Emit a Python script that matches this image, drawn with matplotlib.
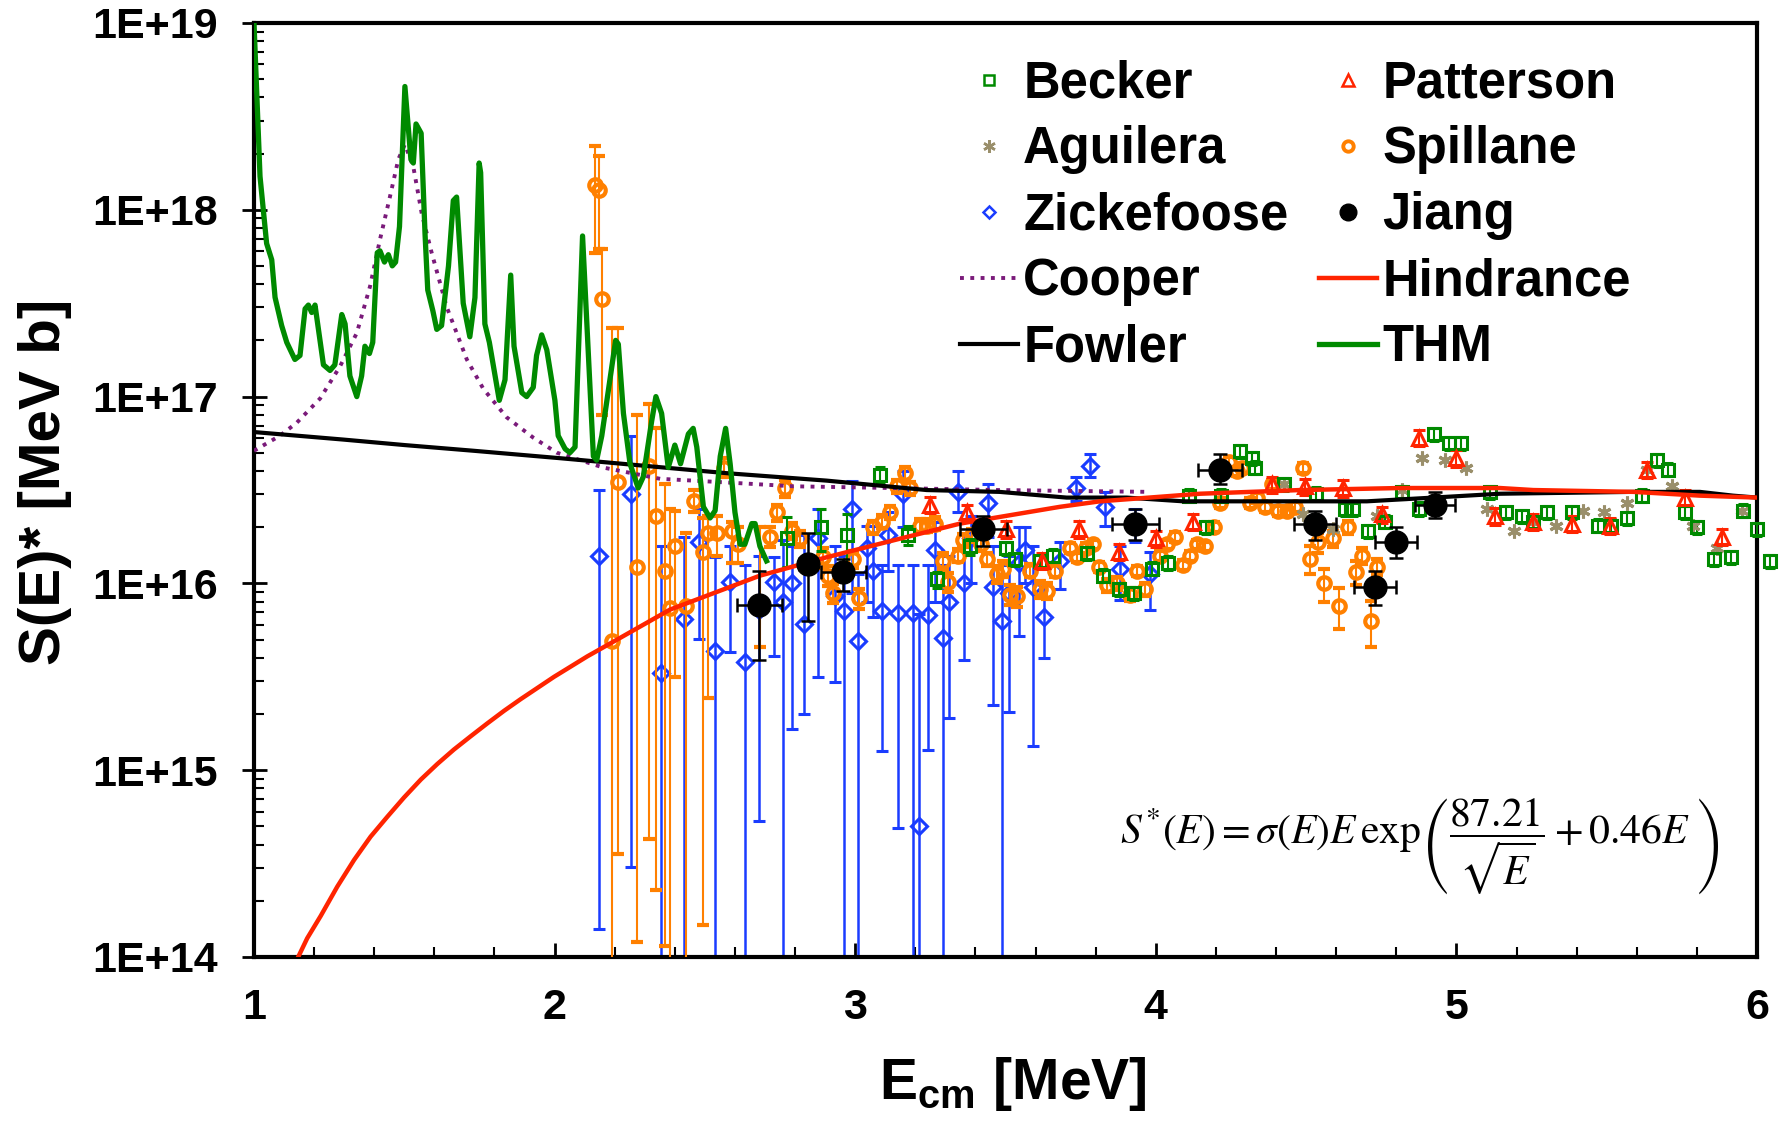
import numpy as np
import matplotlib
matplotlib.use('Agg')
import matplotlib.pyplot as plt
from matplotlib.lines import Line2D
from matplotlib.ticker import LogLocator, MultipleLocator, NullFormatter, FuncFormatter

plt.rcParams['font.family'] = ['Liberation Sans', 'DejaVu Sans']
plt.rcParams['mathtext.fontset'] = 'custom'
plt.rcParams['mathtext.rm'] = 'Liberation Sans:bold'
plt.rcParams['mathtext.bf'] = 'Liberation Sans:bold'
plt.rcParams['mathtext.it'] = 'Liberation Sans:bold'

U = 1e16  # all S values below are in units of 1E+16 MeV b

# ---- curves ----
thm_x = [1.000, 1.020, 1.042, 1.059, 1.070, 1.092, 1.109, 1.136, 1.153, 1.170, 1.181, 1.192, 1.203,
         1.231, 1.253, 1.269, 1.292, 1.303, 1.319, 1.342, 1.358, 1.369, 1.384, 1.395, 1.410, 1.419,
         1.434, 1.447, 1.460, 1.471, 1.484, 1.502, 1.522, 1.530, 1.539, 1.556, 1.569, 1.578, 1.595,
         1.608, 1.624, 1.647, 1.663, 1.674, 1.696, 1.718, 1.735, 1.749, 1.754, 1.768, 1.783, 1.816,
         1.835, 1.854, 1.865, 1.891, 1.907, 1.929, 1.940, 1.957, 1.974, 2.001, 2.012, 2.035, 2.051,
         2.068, 2.093, 2.129, 2.140, 2.157, 2.203, 2.212, 2.229, 2.251, 2.278, 2.295, 2.323, 2.337,
         2.356, 2.378, 2.400, 2.419, 2.445, 2.461, 2.473, 2.495, 2.517, 2.534, 2.551, 2.569, 2.584,
         2.600, 2.617, 2.633, 2.656, 2.667, 2.683, 2.705]
thm_y = [1000, 151, 66, 54, 34, 24, 19.5, 15.8, 16.6, 29.5, 30.9, 28.2, 30.9,
         14.8, 13.8, 14.8, 27.5, 24.5, 12.9, 10.0, 12.9, 18.6, 17.0, 19.5, 58.9, 60.3,
         52.5, 57.5, 50.1, 52.5, 81.3, 457, 186, 178, 288, 257, 74.1, 37.2, 28.8,
         22.9, 24.0, 50, 112, 117, 31.6, 20.9, 33.9, 178, 158, 24.5, 19.5, 9.55,
         12.3, 44.7, 18.6, 10.5, 10.0, 11.2, 16.6, 21.4, 17.8, 9.55, 6.17, 5.25, 5.01,
         5.37, 72.4, 4.79, 4.57, 6.17, 20.0, 19.1, 8.13, 4.37, 3.24, 3.72, 7.41, 10.0,
         8.13, 4.17, 5.50, 4.37, 6.31, 6.76, 5.37, 2.57, 2.24, 2.45, 4.79, 6.76, 4.37,
         2.40, 1.62, 1.62, 2.09, 2.09, 1.58, 1.32]

cooper_x = [1.00, 1.086, 1.142, 1.22, 1.286, 1.342, 1.386, 1.419, 1.452, 1.48, 1.502, 1.53, 1.558,
            1.591, 1.641, 1.708, 1.763, 1.84, 1.929, 2.007, 2.162, 2.351, 2.573, 2.795, 3.127,
            3.481, 3.981]
cooper_y = [5.13, 6.17, 7.24, 9.77, 14.5, 21.9, 38.9, 69.2, 117, 186, 224, 170, 95.5,
            58.9, 30.2, 15.8, 11.0, 7.76, 6.03, 5.01, 4.17, 3.63, 3.47, 3.31, 3.24,
            3.16, 3.09]

fowler_x = [1.0, 1.296, 1.502, 1.73, 2.018, 2.573, 2.905, 3.238, 3.48, 3.703, 3.903, 4.092, 4.369,
            4.702, 4.923, 5.145, 5.589, 5.81, 5.92, 6.0]
fowler_y = [6.46, 5.89, 5.50, 5.13, 4.68, 3.89, 3.55, 3.16, 3.09, 2.88, 2.88, 2.75, 2.75,
            2.75, 2.88, 3.02, 3.09, 3.09, 2.95, 2.88]

hind_x = [1.144, 1.177, 1.222, 1.277, 1.333, 1.388, 1.443, 1.499, 1.555, 1.610, 1.665, 1.721, 1.776,
          1.832, 1.887, 1.998, 2.109, 2.22, 2.384, 2.683, 2.905, 3.127, 3.349, 3.681, 3.814, 4.147,
          4.48, 4.812, 5.145, 5.256, 5.59, 5.81, 6.0]
hind_y = [0.00977, 0.0126, 0.0166, 0.0238, 0.0331, 0.0441, 0.0562, 0.0714, 0.0891, 0.108, 0.129,
          0.152, 0.178, 0.208, 0.240, 0.316, 0.407, 0.513, 0.724, 1.10, 1.38, 1.70, 2.09, 2.57,
          2.75, 3.02, 3.16, 3.24, 3.24, 3.16, 3.09, 2.95, 2.88]

# ---- Spillane: points with large asymmetric error bars ----
spb_x = [2.134, 2.149, 2.159, 2.190, 2.210, 2.273, 2.315, 2.336, 2.367, 2.384, 2.401, 2.437, 2.465,
         2.495, 2.511, 2.541, 2.565, 2.591, 2.609, 2.683]
spb_y = [136, 128, 33.1, 0.49, 3.47, 1.23, 4.27, 2.29, 1.17, 0.74, 1.58, 0.76, 2.75,
         1.48, 1.86, 1.86, 4.17, 1.91, 1.62, 0.776]
spb_lo = [58.9, 61.7, 7.94, 0.001, 0.0355, 0.012, 0.0427, 0.0229, 0.0115, 0.001, 0.316, 0.001, 2.40,
          0.0148, 0.245, 1.41, 3.72, 1.29, 1.29, 0.457]
spb_hi = [219, 195, 61.7, 23.4, 23.4, 7.94, 9.12, 6.76, 3.39, 2.51, 2.45, 1.86, 3.16,
          2.24, 2.29, 2.29, 4.68, 2.14, 2.00, 2.00]

# ---- Spillane: remaining points, relative errors ----
sp_x = [2.717, 2.739, 2.767, 2.789, 2.816, 2.894, 2.911, 2.927, 2.992, 3.011, 3.060, 3.088, 3.116,
        3.138, 3.166, 3.182, 3.216, 3.238, 3.265, 3.293, 3.310, 3.343, 3.360, 3.387, 3.417, 3.437,
        3.471, 3.493, 3.515, 3.537, 3.582, 3.615, 3.637, 3.665, 3.715, 3.739, 3.768, 3.792, 3.812,
        3.837, 3.870, 3.914, 3.937, 3.964, 4.014, 4.036, 4.064, 4.090, 4.114, 4.136, 4.164, 4.192,
        4.212, 4.242, 4.269, 4.286, 4.314, 4.336, 4.364, 4.386, 4.408, 4.436, 4.463, 4.489, 4.513,
        4.541, 4.560, 4.591, 4.610, 4.641, 4.666, 4.685, 4.715, 4.735]
sp_y = [1.78, 2.40, 3.24, 1.91, 1.74, 1.38, 1.10, 0.891, 1.35, 0.832, 2.00, 2.14, 2.40,
        3.31, 3.89, 3.24, 2.04, 2.04, 2.09, 1.32, 1.02, 1.41, 1.70, 1.82, 1.62, 1.35,
        1.12, 1.20, 0.871, 0.851, 1.17, 0.933, 0.912, 1.17, 1.55, 1.38, 1.55, 1.62, 1.23,
        0.977, 1.00, 0.871, 1.17, 0.933, 1.41, 1.62, 1.78, 1.26, 1.41, 1.62, 1.58, 2.00,
        2.69, 4.47, 3.98, 4.17, 2.69, 2.88, 2.57, 3.39, 2.45, 2.45, 2.57, 4.17, 1.35,
        1.66, 1.00, 1.74, 0.759, 2.00, 1.15, 1.41, 0.631, 1.23]
sp_rel = [0.12, 0.1, 0.1, 0.1, 0.1, 0.12, 0.12, 0.12, 0.1, 0.12, 0.08, 0.08, 0.08,
          0.08, 0.08, 0.08, 0.08, 0.08, 0.08, 0.1, 0.12, 0.08, 0.08, 0.08, 0.08, 0.08,
          0.1, 0.1, 0.12, 0.12, 0.08, 0.1, 0.1, 0.08, 0.06, 0.06, 0.06, 0.06, 0.06,
          0.08, 0.08, 0.08, 0.06, 0.08, 0.06, 0.06, 0.06, 0.06, 0.06, 0.06, 0.06, 0.06,
          0.06, 0.06, 0.06, 0.06, 0.06, 0.06, 0.06, 0.06, 0.06, 0.06, 0.06, 0.06, 0.17,
          0.12, 0.2, 0.1, 0.25, 0.08, 0.15, 0.1, 0.28, 0.1]

# ---- Zickefoose ----
zk_x = [2.149, 2.254, 2.354, 2.430, 2.482, 2.534, 2.584, 2.633, 2.681, 2.731, 2.759, 2.791, 2.831,
        2.877, 2.933, 2.964, 2.988, 3.010, 3.038, 3.060, 3.088, 3.110, 3.143, 3.160, 3.193, 3.213,
        3.243, 3.265, 3.291, 3.313, 3.341, 3.362, 3.385, 3.441, 3.460, 3.487, 3.510, 3.546, 3.565,
        3.593, 3.628, 3.682, 3.735, 3.781, 3.831, 3.881, 3.931, 3.981]
zk_y = [1.41, 3.02, 0.331, 0.646, 1.66, 0.437, 1.02, 0.380, 0.724, 1.02, 0.794, 1.00, 0.603,
        1.74, 0.851, 0.708, 2.51, 0.49, 1.55, 1.17, 0.708, 1.82, 0.692, 3.02, 0.692, 0.0501,
        0.676, 1.51, 0.513, 0.794, 3.09, 1.00, 1.74, 2.69, 0.955, 0.631, 0.891, 1.29, 1.51,
        0.955, 0.661, 1.32, 3.24, 4.27, 2.57, 1.20, 2.04, 1.12]
zk_lo = [0.0141, 0.0302, 0.001, 0.001, 0.501, 0.001, 0.427, 0.001, 0.0537, 0.407, 0.001, 0.166, 0.20,
         0.316, 0.295, 0.001, 0.891, 0.001, 0.794, 0.661, 0.127, 1.17, 0.049, 2.0, 0.001, 0.001,
         0.129, 0.794, 0.001, 0.191, 2.40, 0.389, 1.0, 1.78, 0.224, 0.001, 0.204, 0.525, 1.0,
         0.135, 0.398, 0.933, 2.75, 3.72, 2.04, 0.813, 1.66, 0.724]
zk_hi = [3.16, 6.17, 1.58, 1.78, 2.51, 1.38, 1.58, 1.26, 1.41, 1.38, 1.70, 1.58, 1.82,
         2.51, 1.58, 1.41, 3.55, 1.12, 2.04, 2.04, 1.26, 2.40, 1.26, 3.98, 1.26, 0.69,
         1.26, 2.14, 1.26, 1.41, 3.98, 1.58, 2.29, 3.39, 1.58, 1.26, 1.41, 2.0, 2.0,
         1.58, 1.0, 1.66, 3.72, 4.90, 3.09, 1.58, 2.51, 1.48]

# ---- Becker ----
bk_x = [2.772, 2.885, 2.974, 3.083, 3.177, 3.271, 3.382, 3.502, 3.532, 3.615, 3.659, 3.772, 3.826,
        3.879, 3.926, 3.986, 4.042, 4.112, 4.167, 4.216, 4.280, 4.319, 4.330, 4.425, 4.533, 4.630,
        4.657, 4.707, 4.763, 4.818, 4.874, 4.924, 4.974, 5.015, 5.112, 5.165, 5.217, 5.256, 5.300,
        5.386, 5.472, 5.513, 5.569, 5.619, 5.668, 5.705, 5.760, 5.799, 5.858, 5.912, 5.954, 5.999,
        6.043]
bk_y = [1.74, 2.00, 1.82, 3.80, 1.82, 1.05, 1.58, 1.55, 1.35, 1.32, 1.41, 1.45, 1.10,
        0.933, 0.891, 1.20, 1.29, 2.95, 2.00, 2.95, 5.13, 4.68, 4.17, 3.39, 3.02, 2.51,
        2.51, 1.91, 2.14, 3.09, 2.51, 6.31, 5.62, 5.62, 3.09, 2.40, 2.29, 2.14, 2.40,
        2.40, 2.04, 2.04, 2.24, 2.95, 4.57, 4.07, 2.40, 2.00, 1.35, 1.38, 2.45, 1.95,
        1.32]
bk_rel = [0.3, 0.25, 0.3, 0.1, 0.12, 0.1, 0.1, 0.08, 0.08, 0.08, 0.08, 0.08, 0.08,
          0.08, 0.08, 0.08, 0.08, 0.08, 0.08, 0.08, 0.08, 0.08, 0.08, 0.08, 0.08, 0.08,
          0.08, 0.08, 0.08, 0.08, 0.08, 0.08, 0.08, 0.08, 0.08, 0.08, 0.08, 0.08, 0.08,
          0.08, 0.08, 0.08, 0.08, 0.08, 0.08, 0.08, 0.08, 0.08, 0.08, 0.08, 0.08, 0.08,
          0.08]

# ---- Aguilera ----
ag_x = [4.425, 4.491, 4.591, 4.735, 4.818, 4.885, 4.962, 5.032, 5.101, 5.190, 5.256, 5.333, 5.422,
        5.491, 5.569, 5.633, 5.716, 5.788, 5.866, 5.949]
ag_y = [3.39, 2.34, 1.95, 2.29, 3.16, 4.68, 4.57, 4.17, 2.51, 1.91, 2.14, 2.04, 2.45,
        2.40, 2.69, 4.07, 3.31, 2.04, 1.55, 2.45]

# ---- Patterson ----
pt_x = [3.249, 3.373, 3.502, 3.620, 3.746, 3.876, 4.000, 4.125, 4.386, 4.497, 4.624, 4.752, 4.874,
        4.999, 5.128, 5.256, 5.383, 5.511, 5.635, 5.760, 5.885]
pt_y = [2.63, 2.40, 1.95, 1.32, 1.95, 1.48, 1.74, 2.14, 3.39, 3.31, 3.24, 2.34, 6.03,
        4.68, 2.29, 2.14, 2.09, 2.04, 4.07, 2.88, 1.78]

# ---- Jiang ----
jg_x = [2.681, 2.844, 2.961, 3.426, 3.931, 4.214, 4.530, 4.729, 4.799, 4.929]
jg_y = [0.767, 1.27, 1.15, 1.95, 2.09, 4.07, 2.09, 0.955, 1.66, 2.63]
jg_xerr = [0.075, 0.03, 0.075, 0.078, 0.078, 0.072, 0.07, 0.07, 0.07, 0.068]
jg_lo = [0.389, 0.631, 0.912, 1.58, 1.70, 3.39, 1.70, 0.767, 1.36, 2.24]
jg_hi = [1.17, 1.86, 1.35, 2.29, 2.51, 4.90, 2.45, 1.17, 2.00, 3.09]

green = '#008a00'
blue = '#1a3cff'
orange = '#ff8000'
red = '#ff2400'
tan = '#9a8f6b'
purple = '#7a1a7a'

fig = plt.figure(figsize=(17.79, 11.21), dpi=100)
ax = fig.add_axes([254 / 1779, 1 - 957 / 1121, 1503 / 1779, 934 / 1121])
ax.set_yscale('log')


def ends(y, lo, hi):
    y = np.array(y) * U
    return y, [y - np.array(lo) * U, np.array(hi) * U - y]


y, e = ends(zk_y, zk_lo, zk_hi)
ax.errorbar(zk_x, y, yerr=e, fmt='D', ms=8.5, mfc='none', mec=blue, mew=2.2,
            ecolor=blue, elinewidth=1.8, capsize=4.5, capthick=1.8, zorder=2)

y, e = ends(spb_y, spb_lo, spb_hi)
ax.errorbar(spb_x, y, yerr=e, fmt='o', ms=9, mfc='none', mec=orange, mew=3,
            ecolor=orange, elinewidth=1.5, capsize=4.5, capthick=1.5, zorder=3)
y = np.array(sp_y) * U
ax.errorbar(sp_x, y, yerr=y * np.array(sp_rel), fmt='o', ms=9, mfc='none', mec=orange, mew=3,
            ecolor=orange, elinewidth=1.5, capsize=4, capthick=1.5, zorder=3)

y = np.array(bk_y) * U
ax.errorbar(bk_x, y, yerr=y * np.array(bk_rel), fmt='s', ms=8.5, mfc='none', mec=green, mew=2.2,
            ecolor=green, elinewidth=1.5, capsize=3.5, capthick=1.5, zorder=4, clip_on=False)
ax.plot(ag_x, np.array(ag_y) * U, ls='none', marker=(6, 2, 0), ms=10, mec=tan, mew=2.2, zorder=4)
y = np.array(pt_y) * U
ax.errorbar(pt_x, y, yerr=y * 0.1, fmt='^', ms=10, mfc='none', mec=red, mew=2.2,
            ecolor=red, elinewidth=1.5, capsize=4, capthick=1.5, zorder=4)

ax.plot(cooper_x, np.array(cooper_y) * U, ':', color=purple, lw=2.8, zorder=5)
ax.plot(fowler_x, np.array(fowler_y) * U, '-', color='black', lw=3, zorder=5)
ax.plot(hind_x, np.array(hind_y) * U, '-', color=red, lw=3.2, zorder=5)
ax.plot(thm_x, np.array(thm_y) * U, '-', color=green, lw=3.8, zorder=5)

y, e = ends(jg_y, jg_lo, jg_hi)
ax.errorbar(jg_x, y, xerr=jg_xerr, yerr=e, fmt='o', ms=16.5, color='black',
            elinewidth=1.8, capsize=5, capthick=1.8, zorder=6)

ax.set_xlim(1, 6)
ax.set_ylim(1e14, 1e19)

ax.set_xticks([1, 2, 3, 4, 5, 6])
ax.xaxis.set_minor_locator(MultipleLocator(0.2))
ax.xaxis.set_major_formatter(FuncFormatter(lambda v, p: '%d' % v))
ax.set_yticks([1e14, 1e15, 1e16, 1e17, 1e18, 1e19])
ax.yaxis.set_minor_locator(LogLocator(base=10, subs=np.arange(2, 10)))
ax.yaxis.set_minor_formatter(NullFormatter())
ax.yaxis.set_major_formatter(FuncFormatter(lambda v, p: '1E+%d' % round(np.log10(v))))

ax.tick_params(axis='x', which='major', direction='in', length=10, width=2, pad=22, labelsize=31)
ax.tick_params(axis='x', which='minor', direction='in', length=7, width=1.5)
ax.tick_params(axis='y', which='major', direction='inout', length=18, width=2, pad=17, labelsize=31)
ax.tick_params(axis='y', which='minor', direction='in', length=7, width=1.5)
for lab in ax.get_xticklabels() + ax.get_yticklabels():
    lab.set_fontweight('bold')
for s in ax.spines.values():
    s.set_linewidth(3)

ax.set_xlabel(r'E$_{\mathbf{cm}}$ [MeV]', fontsize=41, fontweight='bold')
ax.xaxis.set_label_coords(0.505, -0.105)
ax.set_ylabel('S(E)* [MeV b]', fontsize=42, fontweight='bold')
ax.yaxis.set_label_coords(-0.121, 0.509)

ax.text(0.975, 0.118,
        r'$S^{*}\left(E\right)=\sigma\left(E\right)E\,\mathrm{exp}\left(\dfrac{87.21}{\sqrt{E}}+0.46E\;\right)$',
        transform=ax.transAxes, ha='right', va='center', fontsize=30, fontweight='normal',
        math_fontfamily='stix')

handles = [
    Line2D([], [], ls='none', marker='s', ms=7, mfc='none', mec=green, mew=1.8),
    Line2D([], [], ls='none', marker=(6, 2, 0), ms=9, mec=tan, mew=1.8),
    Line2D([], [], ls='none', marker='D', ms=6, mfc='none', mec=blue, mew=1.8),
    Line2D([], [], ls=':', color=purple, lw=2.8),
    Line2D([], [], ls='-', color='black', lw=3),
    Line2D([], [], ls='none', marker='^', ms=8.5, mfc='none', mec=red, mew=1.8),
    Line2D([], [], ls='none', marker='o', ms=7.5, mfc='none', mec=orange, mew=2.8),
    Line2D([], [], ls='none', marker='o', ms=12, color='black'),
    Line2D([], [], ls='-', color=red, lw=3.2),
    Line2D([], [], ls='-', color=green, lw=3.8),
]
labels = ['Becker', 'Aguilera', 'Zickefoose', 'Cooper', 'Fowler',
          'Patterson', 'Spillane', 'Jiang', 'Hindrance', 'THM']
ax.legend(handles, labels, ncol=2, loc='upper right', bbox_to_anchor=(0.916, 0.961),
          frameon=False, prop={'size': 36.5, 'weight': 'bold'}, handlelength=1.15,
          handletextpad=0.1, columnspacing=0.6, labelspacing=0.335, borderaxespad=0, borderpad=0)

fig.savefig('out.png', dpi=100)
